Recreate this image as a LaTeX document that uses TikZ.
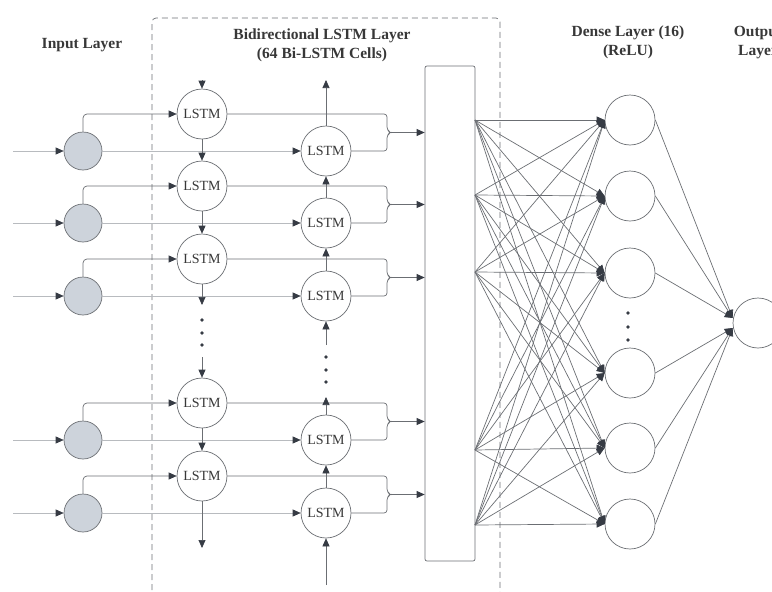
\documentclass[tikz,border=0pt]{standalone}
\usepackage{fontspec}
\setmainfont{Liberation Serif}
\usepackage{xcolor}
\usetikzlibrary{arrows.meta,positioning}
\definecolor{linegray}{HTML}{6B6E73}
\definecolor{lightline}{HTML}{B8BBBF}
\definecolor{tipgray}{HTML}{363B44}
\definecolor{cellgray}{HTML}{CDD3DB}
\definecolor{textgray}{HTML}{383838}

\begin{document}
\begin{tikzpicture}[x=1pt,y=-1pt,->,>={Triangle[length=8pt,width=7pt,color=tipgray]},line width=0.7pt,color=linegray]
	\tikzstyle{cell}=[circle,draw=linegray,fill=white,minimum size=50pt,inner sep=0pt,text=textgray,font=\fontsize{14}{16}\selectfont]
	\tikzstyle{inp}=[circle,draw=linegray,fill=cellgray,minimum size=38pt,inner sep=0pt]
	\tikzstyle{neuron}=[circle,draw=linegray,minimum size=50pt,inner sep=0pt]
	\tikzstyle{title}=[text=textgray,align=center,font=\bfseries\fontsize{15.5}{19}\selectfont]
	\tikzstyle{light}=[draw=lightline]
	\useasboundingbox (0,0) rectangle (772,592);

	% layer titles
	\node[title] (tIn)  at (82,45)    {Input Layer};
	\node[title] (tBi)  at (322,45.5) {Bidirectional LSTM Layer\\(64 Bi-LSTM Cells)};
	\node[title] (tDe)  at (628,42.5) {Dense Layer (16)\\(ReLU)};
	\node[title] (tOut) at (758,42.5) {Output\\Layer};

	% dashed frame of the Bi-LSTM layer
	\draw[-,dashed,dash pattern=on 6pt off 4pt,rounded corners=4pt] (152,600) -- (152,18) -- (500,18) -- (500,600);

	% input, forward and backward cells
	\foreach \i/\y in {1/151,2/223,3/296,4/440,5/513}{
		\coordinate (x\i) at (13,\y);
		\node[inp]  (I\i) at (83,\y)      {};
		\node[cell] (F\i) at (202,{\y-37}) {LSTM};
		\node[cell] (B\i) at (326,\y)     {LSTM};
		\coordinate (m\i) at (391,{\y-18.5});
		\draw[light] (x\i) -- (I\i);
		\draw[rounded corners=4pt] (I\i.north) |- (F\i.west);
		\draw[light] (I\i.east) -- (B\i.west);
		\draw[-,rounded corners=3pt] (F\i.east) -- (387,{\y-37}) -- (387,{\y-21}) -- (m\i) -- (387,{\y-16}) -- (387,\y) -- (B\i.east);
	}

	% merged outputs
	\node[draw=linegray,rounded corners=2pt,minimum width=50pt,minimum height=495pt] (R) at (450,313.5) {};
	\foreach \i in {1,...,5}
		\draw (m\i) -- (R.west |- m\i);

	% forward chain
	\coordinate (ftop)  at (202,80);
	\coordinate (fmid1) at (202,305);
	\coordinate (fmid2) at (202,357);
	\coordinate (fbot)  at (202,548);
	\path
	(ftop) edge (F1)
	(F1) edge (F2)
	(F2) edge (F3)
	(F3) edge (fmid1)
	(fmid2) edge (F4)
	(F4) edge (F5)
	(F5) edge (fbot);

	% backward chain
	\coordinate (bbot)  at (326,585);
	\coordinate (bmid1) at (326,397);
	\coordinate (bmid2) at (326,345);
	\coordinate (btop)  at (326,80);
	\path
	(bbot) edge (B5)
	(B5) edge (B4)
	(B4) edge (bmid1)
	(bmid2) edge (B3)
	(B3) edge (B2)
	(B2) edge (B1)
	(B1) edge (btop);

	% dots
	\foreach \y in {320,333,345} \fill[tipgray] (202,\y) circle (1.8pt);
	\foreach \y in {357,370,382} \fill[tipgray] (326,\y) circle (1.8pt);
	\foreach \y in {313,327,340} \fill[tipgray] (628,\y) circle (1.8pt);

	% dense layer
	\foreach \d/\y in {1/120,2/196,3/273,4/373,5/448,6/524}
		\node[neuron] (D\d) at (630,\y) {};
	\foreach \s/\y in {1/120,2/195,3/272,4/450,5/525}
		\coordinate (S\s) at (475,\y);
	\foreach \s in {1,...,5}
		\foreach \d in {1,...,6}
			\draw (S\s) -- (D\d.west);

	% output layer
	\node[neuron] (O) at (758,323) {};
	\foreach \d in {1,2,3}
		\draw (D\d.east) -- ([yshift=5pt]O.west);
	\foreach \d in {4,5,6}
		\draw (D\d.east) -- ([yshift=-5pt]O.west);
\end{tikzpicture}
\end{document}
